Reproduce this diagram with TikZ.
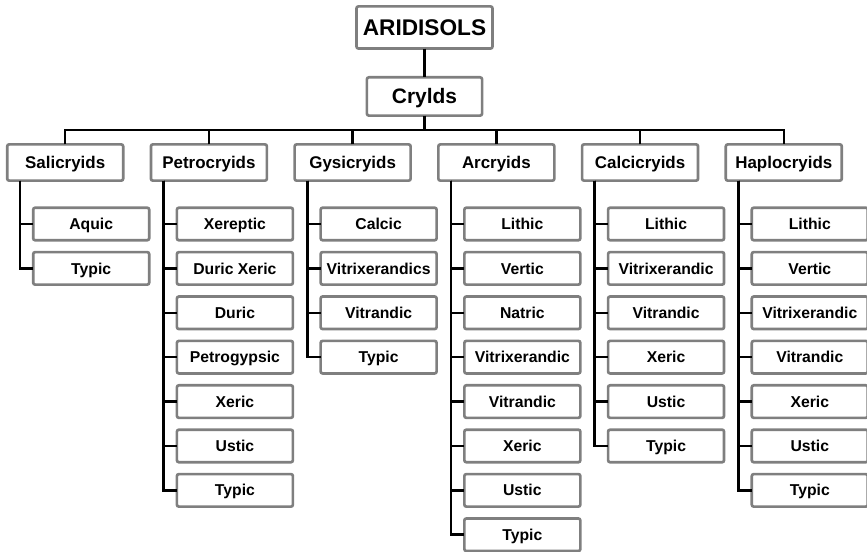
\documentclass[tikz,border=0pt]{standalone}
\usepackage{fontspec}
\setmainfont{Liberation Sans}
\usepackage{tikz}
\usetikzlibrary{positioning,calc}
\definecolor{SoilGray}{HTML}{7F7F7F}
\definecolor{SoilInk}{HTML}{000000}
\tikzset{
  orderbox/.style={draw=SoilGray,line width=2pt,rounded corners=1.5pt,fill=white,align=center,inner sep=0pt,outer sep=0pt,font=\bfseries\fontsize{17}{20}\selectfont,text height=12.2pt,text depth=0pt,minimum width=102pt,minimum height=31.6pt},
  suborderbox/.style={orderbox,font=\bfseries\fontsize{15.7}{18}\selectfont,text height=11.2pt,minimum width=86.4pt,minimum height=28.7pt},
  groupbox/.style={orderbox,font=\bfseries\fontsize{12.7}{15}\selectfont,text height=9.1pt,minimum width=87pt,minimum height=27.2pt},
  subgroupbox/.style={orderbox,font=\bfseries\fontsize{11.8}{14}\selectfont,text height=8.45pt,minimum width=87pt,minimum height=24.4pt},
  treelink/.style={line width=1.9pt,draw=SoilInk}
}

\begin{document}
\begin{tikzpicture}[node distance=8.9pt]
\useasboundingbox (-318.4pt,20.6pt) rectangle (331.9pt,-393.4pt);
\node[orderbox] (ari) at (0,0) {ARIDISOLS};
\node[suborderbox,below=21.6pt of ari] (cry) {Crylds};
% great groups
\node[groupbox,below=21.6pt of cry,xshift=-53.9pt] (gys) {Gysicryids};
\node[groupbox,below=21.6pt of cry,xshift=53.9pt] (arc) {Arcryids};
\node[groupbox,left=20.8pt of gys] (pet) {Petrocryids};
\node[groupbox,left=20.8pt of pet] (sal) {Salicryids};
\node[groupbox,right=20.8pt of arc] (cal) {Calcicryids};
\node[groupbox,right=20.8pt of cal] (hap) {Haplocryids};
% subgroups
\node[subgroupbox,below=20.3pt of sal,xshift=19.5pt] (sal1) {Aquic};
\node[subgroupbox,below=of sal1] (sal2) {Typic};
\node[subgroupbox,below=20.3pt of pet,xshift=19.5pt] (pet1) {Xereptic};
\node[subgroupbox,below=of pet1] (pet2) {Duric Xeric};
\node[subgroupbox,below=of pet2] (pet3) {Duric};
\node[subgroupbox,below=of pet3] (pet4) {Petrogypsic};
\node[subgroupbox,below=of pet4] (pet5) {Xeric};
\node[subgroupbox,below=of pet5] (pet6) {Ustic};
\node[subgroupbox,below=of pet6] (pet7) {Typic};
\node[subgroupbox,below=20.3pt of gys,xshift=19.5pt] (gys1) {Calcic};
\node[subgroupbox,below=of gys1] (gys2) {Vitrixerandics};
\node[subgroupbox,below=of gys2] (gys3) {Vitrandic};
\node[subgroupbox,below=of gys3] (gys4) {Typic};
\node[subgroupbox,below=20.3pt of arc,xshift=19.5pt] (arc1) {Lithic};
\node[subgroupbox,below=of arc1] (arc2) {Vertic};
\node[subgroupbox,below=of arc2] (arc3) {Natric};
\node[subgroupbox,below=of arc3] (arc4) {Vitrixerandic};
\node[subgroupbox,below=of arc4] (arc5) {Vitrandic};
\node[subgroupbox,below=of arc5] (arc6) {Xeric};
\node[subgroupbox,below=of arc6] (arc7) {Ustic};
\node[subgroupbox,below=of arc7] (arc8) {Typic};
\node[subgroupbox,below=20.3pt of cal,xshift=19.5pt] (cal1) {Lithic};
\node[subgroupbox,below=of cal1] (cal2) {Vitrixerandic};
\node[subgroupbox,below=of cal2] (cal3) {Vitrandic};
\node[subgroupbox,below=of cal3] (cal4) {Xeric};
\node[subgroupbox,below=of cal4] (cal5) {Ustic};
\node[subgroupbox,below=of cal5] (cal6) {Typic};
\node[subgroupbox,below=20.3pt of hap,xshift=19.5pt] (hap1) {Lithic};
\node[subgroupbox,below=of hap1] (hap2) {Vertic};
\node[subgroupbox,below=of hap2] (hap3) {Vitrixerandic};
\node[subgroupbox,below=of hap3] (hap4) {Vitrandic};
\node[subgroupbox,below=of hap4] (hap5) {Xeric};
\node[subgroupbox,below=of hap5] (hap6) {Ustic};
\node[subgroupbox,below=of hap6] (hap7) {Typic};
% top links and bus
\coordinate (bus) at ($(cry.south)!0.5!(cry.south |- gys.north)$);
\draw[treelink] (ari) -- (cry);
\draw[treelink] (cry) -- (bus);
\draw[treelink] (sal.north) |- (bus) -| (hap.north);
\draw[treelink] (pet.north) -- (pet.north |- bus);
\draw[treelink] (gys.north) -- (gys.north |- bus);
\draw[treelink] (arc.north) -- (arc.north |- bus);
\draw[treelink] (cal.north) -- (cal.north |- bus);
% spines
\coordinate (salsp) at ([xshift=9.5pt]sal.south west);
\coordinate (petsp) at ([xshift=9.5pt]pet.south west);
\coordinate (gyssp) at ([xshift=9.5pt]gys.south west);
\coordinate (arcsp) at ([xshift=9.5pt]arc.south west);
\coordinate (calsp) at ([xshift=9.5pt]cal.south west);
\coordinate (hapsp) at ([xshift=9.5pt]hap.south west);
\draw[treelink] (salsp) |- (sal1.west);
\draw[treelink] (salsp) |- (sal2.west);
\draw[treelink] (petsp) |- (pet1.west);
\draw[treelink] (petsp) |- (pet2.west);
\draw[treelink] (petsp) |- (pet3.west);
\draw[treelink] (petsp) |- (pet4.west);
\draw[treelink] (petsp) |- (pet5.west);
\draw[treelink] (petsp) |- (pet6.west);
\draw[treelink] (petsp) |- (pet7.west);
\draw[treelink] (gyssp) |- (gys1.west);
\draw[treelink] (gyssp) |- (gys2.west);
\draw[treelink] (gyssp) |- (gys3.west);
\draw[treelink] (gyssp) |- (gys4.west);
\draw[treelink] (arcsp) |- (arc1.west);
\draw[treelink] (arcsp) |- (arc2.west);
\draw[treelink] (arcsp) |- (arc3.west);
\draw[treelink] (arcsp) |- (arc4.west);
\draw[treelink] (arcsp) |- (arc5.west);
\draw[treelink] (arcsp) |- (arc6.west);
\draw[treelink] (arcsp) |- (arc7.west);
\draw[treelink] (arcsp) |- (arc8.west);
\draw[treelink] (calsp) |- (cal1.west);
\draw[treelink] (calsp) |- (cal2.west);
\draw[treelink] (calsp) |- (cal3.west);
\draw[treelink] (calsp) |- (cal4.west);
\draw[treelink] (calsp) |- (cal5.west);
\draw[treelink] (calsp) |- (cal6.west);
\draw[treelink] (hapsp) |- (hap1.west);
\draw[treelink] (hapsp) |- (hap2.west);
\draw[treelink] (hapsp) |- (hap3.west);
\draw[treelink] (hapsp) |- (hap4.west);
\draw[treelink] (hapsp) |- (hap5.west);
\draw[treelink] (hapsp) |- (hap6.west);
\draw[treelink] (hapsp) |- (hap7.west);
\end{tikzpicture}
\end{document}
